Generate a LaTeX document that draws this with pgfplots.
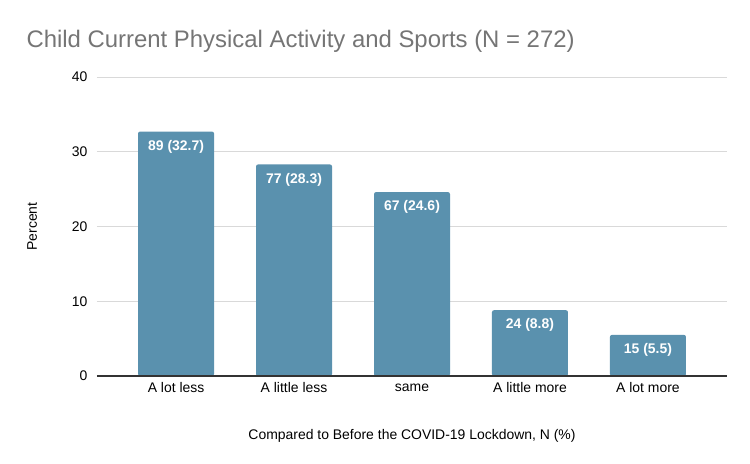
\documentclass[border=0pt]{standalone}
\usepackage{pgfplots}
\pgfplotsset{compat=1.18}
\usepackage{fontspec}
\setmainfont{Liberation Sans}
\definecolor{barblue}{HTML}{5A91AE}
\definecolor{gridgray}{HTML}{D9D9D9}
\definecolor{titlegray}{HTML}{757575}
\definecolor{axisdark}{HTML}{333333}
\begin{document}
\begin{tikzpicture}
\path[use as bounding box] (-97bp,-88bp) rectangle (653bp,376bp);
\begin{axis}[
  at={(0,0)}, anchor=south west,
  scale only axis, width=630bp, height=299bp,
  xmin=-0.67, xmax=4.67, ymin=0, ymax=40,
  ytick={0,10,20,30,40},
  xtick={0,1,2,3,4},
  xticklabels={A lot less, A little less, same, A little more, A lot more},
  axis x line*=bottom, axis y line*=left,
  y axis line style={draw=none},
  x axis line style={draw=none},
  ymajorgrids, grid style={gridgray, line width=0.9pt},
  major tick length=0pt,
  tick label style={font=\fontsize{14}{16}\selectfont, text=black},
  /pgf/number format/assume math mode=true,
  yticklabel style={anchor=east, xshift=-6bp},
  xticklabel style={anchor=center, yshift=-12bp},
  xlabel={Compared to Before the COVID-19 Lockdown, N (\%)},
  xlabel style={font=\fontsize{14}{16}\selectfont, at={(axis description cs:0.5,0)}, anchor=center, yshift=-60bp},
  ylabel={Percent},
  ylabel style={font=\fontsize{14}{16}\selectfont, at={(axis description cs:-0.103,0.5)}, anchor=center},
  clip=false,
]
\addplot[ybar, bar width=76bp, fill=barblue, draw=none, rounded corners=2bp,
  nodes near coords={\pgfplotspointmeta},
  point meta=explicit symbolic,
  every node near coord/.append style={anchor=north, yshift=-5bp, text=white, font=\bfseries\fontsize{14}{16}\selectfont},
] table[meta=lab] {
x y lab
0 32.7 {89 (32.7)}
1 28.3 {77 (28.3)}
2 24.6 {67 (24.6)}
3 8.8 {24 (8.8)}
4 5.5 {15 (5.5)}
};
\draw[axisdark, line width=1.3pt] (axis cs:-0.67,0) -- (axis cs:4.67,0);
\node[anchor=west, text=titlegray, font=\fontsize{24}{28}\selectfont] at (-74bp,335bp) {Child Current Physical Activity and Sports (N = 272)};
\end{axis}
\end{tikzpicture}
\end{document}
